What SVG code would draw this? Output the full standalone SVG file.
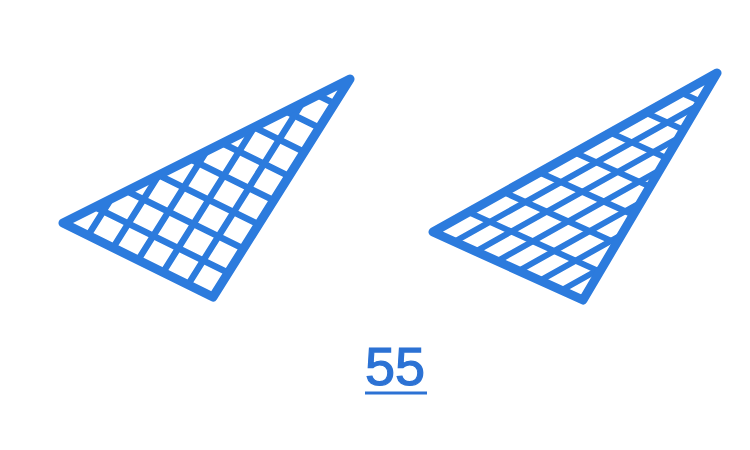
<svg xmlns="http://www.w3.org/2000/svg" width="750" height="450" viewBox="0 0 750 450">
<defs>
<style>
.edge{fill:none;stroke:#2c7bdd;stroke-width:9;stroke-linejoin:round}
.grid{stroke:#2c7bdd;stroke-width:6.5;fill:none;stroke-linecap:round}
.grid2{stroke:#2c7bdd;stroke-width:6;fill:none}
.lbl{font-family:"Liberation Sans",Arial,sans-serif;font-size:54px;fill:#2c72d4;stroke:#2c72d4;stroke-width:1.2}
</style>
<clipPath id="c1"><polygon points="63,223 350,79 213,297"/></clipPath>
<clipPath id="c2"><polygon points="433,232 717,73 583,300"/></clipPath>
</defs>
<g id="triangle-left">
<g clip-path="url(#c1)">
<g class="grid" transform="translate(63,223) rotate(26.26)">
<path d="M-100,-28.4H500M-100,-56.8H500M-100,-85.2H500M-100,-113.6H500M-100,-142H500M-100,-170.4H500M-100,-198.8H500M-100,-227.2H500"/>
</g>
<g class="grid" transform="translate(213,297) rotate(-57.85)">
<path d="M-400,-27.7H400M-400,-55.4H400M-400,-83.1H400M-400,-110.8H400M-400,-138.5H400"/>
</g>
</g>
<polygon class="edge" points="63,223 350,79 213,297"/>
</g>
<g id="triangle-right">
<g clip-path="url(#c2)">
<g class="grid2" transform="translate(433,232) rotate(-29.24)">
<path d="M-100,18.94H500M-100,37.88H500M-100,56.82H500M-100,75.76H500M-100,94.7H500M-100,113.64H500"/>
</g>
<g class="grid2" transform="translate(433,232) rotate(24.39)">
<path d="M-100,-32.75H500M-100,-65.5H500M-100,-98.25H500M-100,-131H500M-100,-163.75H500M-100,-196.5H500M-100,-229.25H500"/>
</g>
</g>
<polygon class="edge" points="433,232 717,73 583,300"/>
</g>
<g id="label">
<text class="lbl" x="395" y="385" text-anchor="middle">55</text>
<line x1="365" y1="393" x2="427" y2="393" stroke="#2c72d4" stroke-width="3"/>
</g>
</svg>
